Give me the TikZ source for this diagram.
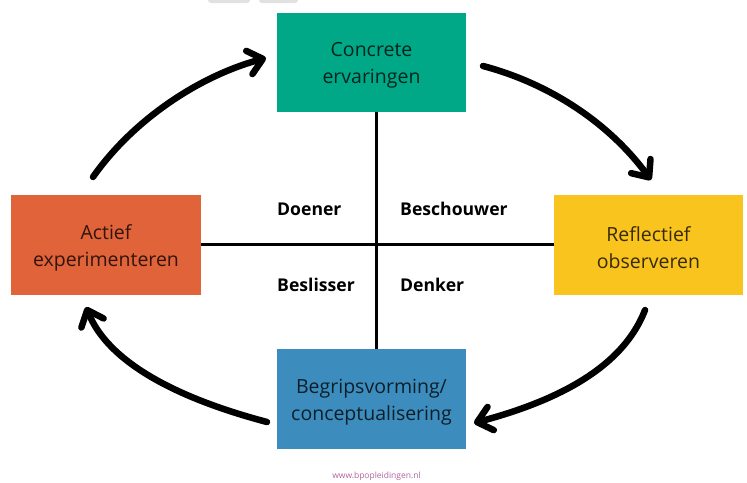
\documentclass[tikz,border=0pt]{standalone}
\usepackage{fontspec}
\setmainfont{Open Sans}
\usetikzlibrary{arrows.meta}
\definecolor{cgreen}{RGB}{0,168,135}
\definecolor{corange}{RGB}{224,99,58}
\definecolor{cyellow}{RGB}{249,196,30}
\definecolor{cblue}{RGB}{60,141,190}
\definecolor{cwater}{RGB}{178,98,158}
\definecolor{cgray}{RGB}{225,225,225}
\begin{document}
\begin{tikzpicture}[x=1pt,y=-1pt,
  stagebox/.style={minimum width=189pt,minimum height=99pt,inner sep=0pt},
  stagetext/.style={inner sep=0pt,align=center,
    font=\fontsize{19.5}{27}\selectfont,text=black,text opacity=0.78},
  rolelabel/.style={anchor=base west,inner sep=0pt,font=\fontsize{17.6}{20}\selectfont\bfseries},
  cyc/.style={line width=6.5pt,line cap=round,line join=round,
    -{Straight Barb[length=14pt,width=24pt,line cap=round,line join=round]}},
  axis/.style={line width=3pt}]
\useasboundingbox (0,0) rectangle (747,482);
\begin{scope}
\clip (0,0) rectangle (747,482);
\fill[cgray, rounded corners=3pt] (208,-10) rectangle (250,3);
\fill[cgray, rounded corners=3pt] (259,-10) rectangle (298,3);
\end{scope}
\node[stagebox,fill=cgreen] (green) at (371.5,62.5) {};
\node[stagebox,fill=corange,minimum width=190pt,minimum height=100pt] (orange) at (106,245) {};
\node[stagebox,fill=cyellow,minimum height=100pt] (yellow) at (648.5,245) {};
\node[stagebox,fill=cblue,minimum height=100pt] (blue) at (371.5,399) {};
\node[stagetext] (greentext) at ([yshift=-3pt]green.center) {Concrete\\ervaringen};
\node[stagetext] (orangetext) at ([yshift=-3pt]orange.center) {Actief\\experimenteren};
\node[stagetext] (yellowtext) at ([yshift=-3pt]yellow.center) {Reflectief\\observeren};
\node[stagetext] (bluetext) at ([yshift=-3pt]blue.center) {Begripsvorming/\\conceptualisering};
\draw[axis] ([xshift=4.5pt]green.south) -- ([xshift=4.5pt]blue.north);
\draw[axis] ([yshift=1pt]orange.east) -- ([yshift=1pt]yellow.west);
\node[rolelabel] (doener) at (277,215) {Doener};
\node[rolelabel] (beschouwer) at (400,215) {Beschouwer};
\node[rolelabel] (beslisser) at (277,291) {Beslisser};
\node[rolelabel] (denker) at (400,291) {Denker};
\coordinate (a1s) at (93,177);
\coordinate (a1e) at (266,58);
\coordinate (a2s) at (483,66);
\coordinate (a2e) at (651,180);
\coordinate (a3s) at (645,310);
\coordinate (a3e) at (474,423);
\coordinate (a4s) at (267,422);
\coordinate (a4e) at (86,307);
\draw[cyc] (a1s) .. controls (133,120) and (199,76) .. (a1e);
\draw[cyc] (a2s) .. controls (551,84) and (610,124) .. (a2e);
\draw[cyc] (a3s) .. controls (620,375) and (541,405) .. (a3e);
\draw[cyc] (a4s) .. controls (199,404) and (112,371) .. (a4e);
\node[text=cwater,font=\fontsize{8.5}{10}\selectfont] (site) at (376.5,476) {www.bpopleidingen.nl};
\end{tikzpicture}
\end{document}
